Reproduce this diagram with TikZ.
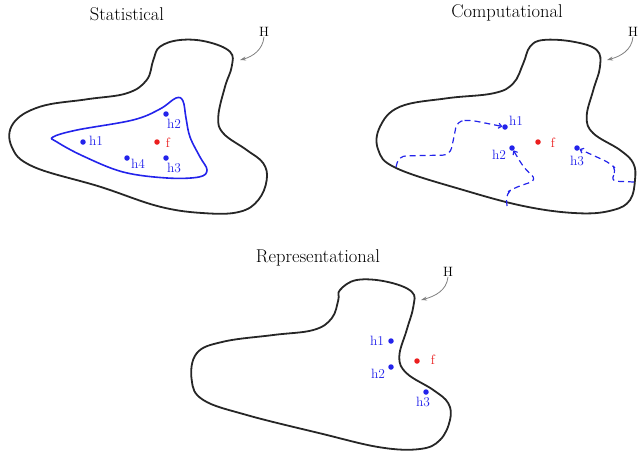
\documentclass[tikz,border=0pt]{standalone}
\usepackage{tikz}
\usetikzlibrary{arrows.meta,positioning}
\definecolor{hblue}{RGB}{35,35,235}
\definecolor{hred}{RGB}{235,30,30}

\begin{document}
\begin{tikzpicture}[
  x=1pt, y=-1pt,
  heading/.style={font=\fontsize{18.5}{22}\selectfont},
  lab/.style={font=\fontsize{13.5}{16}\selectfont, inner sep=0pt},
  hlab/.style={lab, text=hblue},
  flab/.style={lab, text=hred},
  hdot/.style={circle, fill=hblue, minimum size=5.5pt, inner sep=0pt},
  fdot/.style={circle, fill=hred, minimum size=5.5pt, inner sep=0pt},
  boundary/.style={line width=1.8pt, black!85},
  region/.style={line width=1.6pt, hblue},
  walk/.style={-{To[length=4pt,width=6pt]}, hblue, line width=1.2pt, dash pattern=on 6pt off 4pt, rounded corners=7pt},
  harrow/.style={-{Stealth[length=6pt,width=4pt]}, gray, line width=0.8pt}
]
\useasboundingbox (0,0) rectangle (641,451);

% Statistical
\node[heading] (stit) at (127,14) {Statistical};
\draw[boundary] plot[smooth cycle, tension=0.65] coordinates {
  (160,46.7) (180,40) (206.7,41.7) (230,51.7) (231.7,66.7) (225,86.7)
  (218.3,116.7) (223.3,133.3) (246.7,150) (263.3,163.3) (266.7,180)
  (258.3,200) (240,211.7) (206.7,213.3) (160,206.7) (100,186.7)
  (33.3,166.7) (11.7,146.7) (13.3,123.3) (40,106.7) (86.7,99.3)
  (126.7,93.3) (146.7,80) (153.3,60)};
\draw[region] plot[smooth cycle, tension=0.6] coordinates {
  (53,137) (77,130) (133,120) (160,109) (176,98) (183,101)
  (186,118) (190,137) (200,157) (207,170) (199,177) (167,178) (123,172)
  (83,156) (57,142)};
\node[hdot] (s1) at (83,142) {};
\node[hdot] (s2) at (166,114) {};
\node[hdot] (s3) at (166,158) {};
\node[hdot] (s4) at (127,158) {};
\node[fdot] (sf) at (157,142) {};
\node[hlab] (s1l) at (96,141) {h1};
\node[hlab] (s2l) at (174,124) {h2};
\node[hlab] (s3l) at (174,168) {h3};
\node[hlab] (s4l) at (138,164) {h4};
\node[flab] (sfl) at (168,143) {f};
\node[lab] (sH) at (264,32) {H};
\coordinate (sHe) at (240,60);
\draw[harrow] (sH.south) to[out=-95, in=15] (sHe);

% Computational
\node[heading] (ctit) at (507,13) {Computational};
\draw[boundary] plot[smooth cycle, tension=0.65] coordinates {
  (530,46.7) (543.3,40) (573.3,41.7) (596.7,50) (600,66.7) (593.3,90)
  (586.7,116.7) (593.3,133.3) (620,150) (633.3,163.3) (635,180)
  (630,200) (613.3,210) (580,213.3) (526.7,206.7) (463.3,190)
  (396.7,168.3) (378.3,150) (380,126.7) (400,106.7) (446.7,98.3)
  (493.3,93.3) (513.3,83.3) (523.3,63.3)};
\node[hdot] (c1) at (505,127) {};
\node[hdot] (c2) at (512,148) {};
\node[hdot] (c3) at (577,148) {};
\node[fdot] (cf) at (538,142) {};
\node[hlab] (c1l) at (516,121) {h1};
\node[hlab] (c2l) at (499,155) {h2};
\node[hlab] (c3l) at (577,161) {h3};
\node[flab] (cfl) at (553,143) {f};
\coordinate (c1s) at (396,167);
\coordinate (c2s) at (507,206);
\coordinate (c3s) at (634,182);
\draw[walk] (c1s) -- (399,156) -- (450,155) -- (454,137) -- (457,121)
  -- (470,120) -- (c1);
\draw[walk] (c2s) -- (506,193) -- (514,188) -- (537,180) -- (524,168)
  -- (c2);
\draw[walk] (c3s) -- (610,181) -- (617,170) -- (610,163) -- (c3);
\node[lab] (cH) at (633,32) {H};
\coordinate (cHe) at (607,60);
\draw[harrow] (cH.south) to[out=-95, in=15] (cHe);

% Representational
\node[heading] (rtit) at (318,258) {Representational};
\draw[boundary] plot[smooth cycle, tension=0.65] coordinates {
  (340,290) (356.7,280) (386.7,281.7) (411.7,291.7) (413.3,306.7)
  (406.7,330) (399.3,356.7) (406.7,373.3) (433.3,390) (448.3,403.3)
  (450,420) (440,440) (420,449) (380,447.3) (320,433.3) (246.7,415)
  (203.3,400) (191.7,380) (196.7,353.3) (223.3,341.7) (273.3,335)
  (313.3,330) (331.7,318.3) (338.3,300)};
\node[hdot] (r1) at (391,341) {};
\node[hdot] (r2) at (391,367) {};
\node[hdot] (r3) at (426,392) {};
\node[fdot] (rf) at (417,361) {};
\node[hlab] (r1l) at (377,341) {h1};
\node[hlab] (r2l) at (378,374) {h2};
\node[hlab] (r3l) at (423,402) {h3};
\node[flab] (rfl) at (433,360) {f};
\node[lab] (rH) at (448,272) {H};
\coordinate (rHe) at (421,300);
\draw[harrow] (rH.south) to[out=-95, in=15] (rHe);
\end{tikzpicture}
\end{document}
